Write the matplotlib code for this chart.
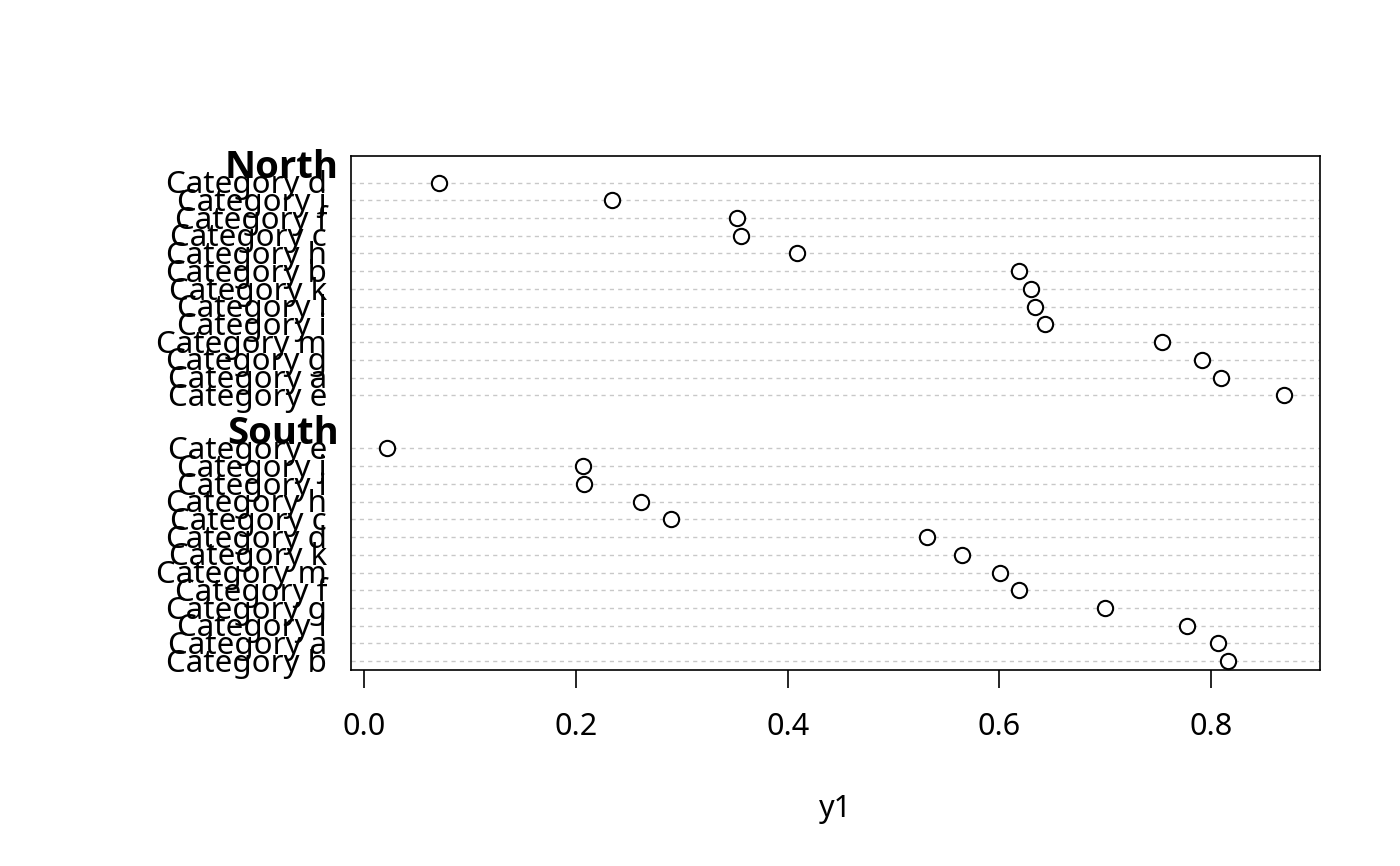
import matplotlib.pyplot as plt

plt.rcParams['font.family'] = ['Noto Sans', 'DejaVu Sans']

# dotchart groups, listed top to bottom
north_labels = ['d', 'j', 'f', 'c', 'h', 'b', 'k', 'l', 'i', 'm', 'g', 'a', 'e']
north_values = [0.071, 0.234, 0.352, 0.356, 0.409, 0.619, 0.630, 0.634,
                0.643, 0.754, 0.791, 0.809, 0.869]
south_labels = ['e', 'j', 'i', 'h', 'c', 'd', 'k', 'm', 'f', 'g', 'l', 'a', 'b']
south_values = [0.021, 0.207, 0.208, 0.261, 0.290, 0.532, 0.565, 0.601,
                0.619, 0.700, 0.777, 0.807, 0.816]
groups = [('North', north_labels, north_values),
          ('South', south_labels, south_values)]
x_ticks = [0.0, 0.2, 0.4, 0.6, 0.8]

fig = plt.figure(figsize=(14, 8.66), dpi=100)
ax = fig.add_axes([0.2507, 0.2263, 0.9429 - 0.2507, 0.8199 - 0.2263])

# y positions like R's dotchart: bottom group first, gap row for each header
n_rows = sum(len(g[1]) for g in groups) + 2 * len(groups) - 1
pos = n_rows
for name, labels, values in groups:
    ax.text(-0.0124, pos - 0.77, name, transform=ax.get_yaxis_transform(),
            ha='right', va='baseline', fontsize=27.5, fontweight='bold',
            family=['Open Sans', 'DejaVu Sans'])
    pos -= 1
    for lab, v in zip(labels, values):
        ax.axhline(pos, color='#c8c8c8', lw=1, linestyle=(0, (3, 3)), zorder=1)
        ax.plot(v, pos, 'o', markersize=11, markerfacecolor='white',
                markeredgecolor='black', markeredgewidth=1.5, zorder=3)
        ax.text(-0.0248, pos - 0.6, 'Category ' + lab,
                transform=ax.get_yaxis_transform(),
                ha='right', va='baseline', fontsize=22.5)
        pos -= 1
    pos -= 1

ax.set_ylim(0.5, n_rows + 0.5)
ax.set_xlim(-0.0126, 0.903)
ax.set_yticks([])
ax.set_xticks(x_ticks)
ax.set_xticklabels(['{:.1f}'.format(t) for t in x_ticks])
ax.tick_params(axis='x', length=13, width=1.2, pad=17, labelsize=22)
for s in ax.spines.values():
    s.set_linewidth(1.2)
ax.set_xlabel('y1', fontsize=22, labelpad=38)

fig.savefig('out.png', dpi=100)
